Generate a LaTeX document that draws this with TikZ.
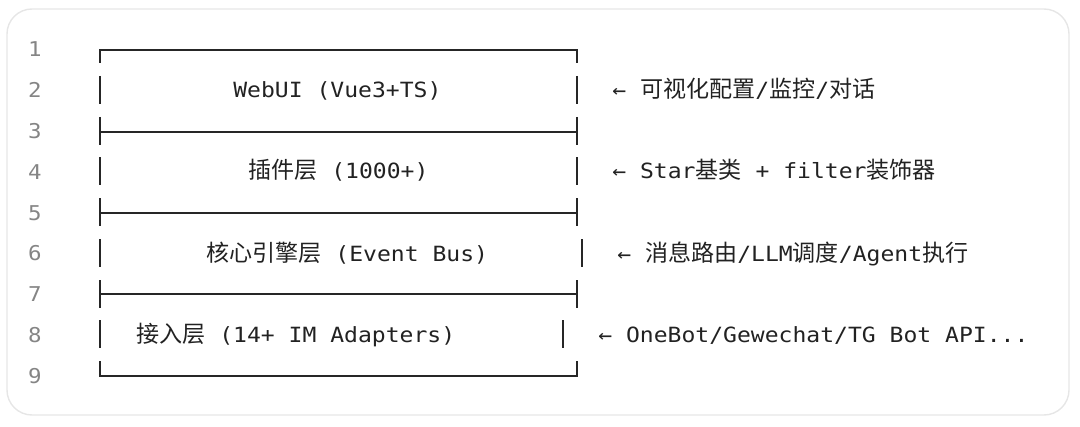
\documentclass[tikz,border=0pt]{standalone}
\usepackage{fontspec}
\usetikzlibrary{positioning}
\newfontfamily\codefont[FakeStretch=1.1]{DejaVu Sans Mono}
\newfontfamily\zhfont{Noto Sans CJK SC}
\newcommand{\zh}[1]{{\zhfont\fontsize{16.4pt}{18pt}\selectfont #1}}
\definecolor{codeink}{HTML}{222222}
\definecolor{ruleink}{HTML}{262626}
\definecolor{numgray}{HTML}{858585}
\definecolor{frame}{HTML}{E6E6E6}

\begin{document}
\begin{tikzpicture}[x=0.025cm, y=-0.025cm,
    lineno/.style={anchor=base, inner sep=0pt, text=numgray, font=\codefont\fontsize{14.5pt}{16pt}\selectfont},
    code/.style={anchor=base west, inner sep=0pt, text=codeink, font=\codefont\fontsize{14.9pt}{18pt}\selectfont},
    rule/.style={draw=ruleink, line width=1.5pt}]

      \useasboundingbox (0, 0) rectangle (1080, 427);
      \draw[frame, line width=1pt, rounded corners=0.625cm] (7, 9) rectangle (1069, 415);

      \foreach \n in {1,...,9}
        \node[lineno] (ln\n) at (35, {16.25+\n*40.75}) {\n};

      % top and bottom edge
      \draw[rule] (100, 63) |- (577, 50) -- (577, 63);
      \draw[rule] (100, 361) |- (577, 376) -- (577, 361);

      % layer separators
      \draw[rule] (100, 117) -- (100, 145);
      \draw[rule] (577, 117) -- (577, 145);
      \draw[rule] (100, 132) -- (577, 132);
      \draw[rule] (100, 198) -- (100, 226);
      \draw[rule] (577, 198) -- (577, 226);
      \draw[rule] (100, 213) -- (577, 213);
      \draw[rule] (100, 280) -- (100, 308);
      \draw[rule] (577, 280) -- (577, 308);
      \draw[rule] (100, 294) -- (577, 294);

      % side bars
      \draw[rule] (100, 76) -- (100, 104);
      \draw[rule] (577, 76) -- (577, 104);
      \draw[rule] (100, 157) -- (100, 185);
      \draw[rule] (577, 157) -- (577, 185);
      \draw[rule] (100, 239) -- (100, 267);
      \draw[rule] (582, 239) -- (582, 267);
      \draw[rule] (100, 320) -- (100, 348);
      \draw[rule] (563, 320) -- (563, 348);

      \node[code] (webui) at (233, 98) {WebUI (Vue3+TS)};
      \node[code] (plugins) at (248, 179) {\zh{插件层} (1000+)};
      \node[code] (core) at (206, 261) {\zh{核心引擎层} (Event Bus)};
      \node[code] (adapters) at (136, 342) {\zh{接入层} (14+ IM Adapters)};

      \node[code] (webuinote) at (612, 98) {← \zh{可视化配置}/\zh{监控}/\zh{对话}};
      \node[code] (pluginsnote) at (612, 179) {← Star\zh{基类} + filter\zh{装饰器}};
      \node[code] (corenote) at (617, 261) {← \zh{消息路由}/LLM\zh{调度}/Agent\zh{执行}};
      \node[code] (adaptersnote) at (598, 342) {← OneBot/Gewechat/TG Bot API...};

    \end{tikzpicture}
\end{document}
